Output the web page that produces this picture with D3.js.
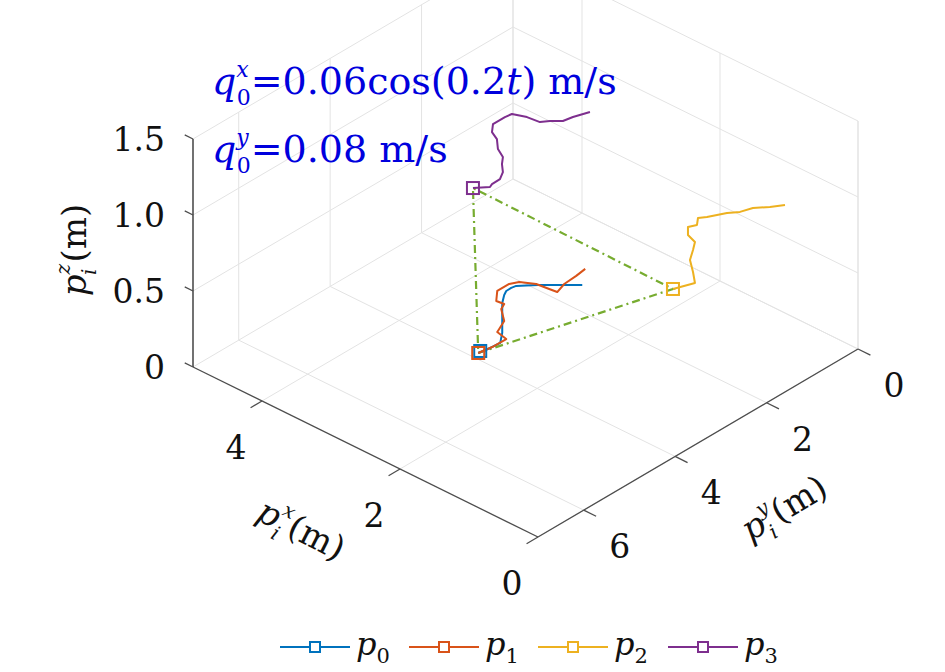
<!DOCTYPE html>
<html>
<head>
<meta charset="UTF-8">
<script src="https://d3js.org/d3.v7.min.js"></script>
<style>
  body { margin: 0; background: #fff; }
  svg text { font-family: "DejaVu Serif", serif; }
</style>
</head>
<body>
<svg id="svg" width="945" height="672"></svg>
<script>
// 3D view: screen offsets of each axis (x: 0..5, y: 0..7, z: 0..1.5)
const origin = [858, 349];
const xH = d3.scaleLinear([0, 5], [0, -345]), xV = d3.scaleLinear([0, 5], [0, -170]);
const yH = d3.scaleLinear([0, 7], [0, -320]), yV = d3.scaleLinear([0, 7], [0, 188]);
const zV = d3.scaleLinear([0, 1.5], [0, -228]);
function proj(p) {
  return [origin[0] + xH(p[0]) + yH(p[1]), origin[1] + xV(p[0]) + yV(p[1]) + zV(p[2])];
}

// trajectories [x, y, z]
const traj = {
  p0: [[2.94,3.87,0],[2.845,3.75,0.033],[2.767,3.65,0.066],[2.751,3.63,0.132],[2.751,3.63,0.23],
       [2.751,3.63,0.329],[2.735,3.611,0.382],[2.719,3.591,0.408],[2.68,3.541,0.428],[2.641,3.491,0.441],
       [2.562,3.391,0.444],[2.467,3.271,0.447],[2.31,3.072,0.447],[2.12,2.832,0.447]],
  p1: [[2.94,3.87,0],[2.83,3.73,0.039],[2.719,3.591,0.092],[2.79,3.68,0.138],[2.775,3.66,0.158],
       [2.735,3.611,0.211],[2.759,3.64,0.289],[2.735,3.611,0.322],[2.798,3.69,0.342],[2.79,3.68,0.408],
       [2.696,3.561,0.454],[2.617,3.461,0.467],[2.483,3.291,0.454],[2.381,3.161,0.421],[2.317,3.082,0.401],
       [2.262,3.012,0.454],[2.168,2.892,0.507],[2.097,2.802,0.553]],
  p2: [[1.244,2.17,0.5],[1.071,1.95,0.539],[1.086,1.97,0.612],[1.11,2.0,0.691],[1.086,1.97,0.757],
       [1.071,1.95,0.809],[1.126,2.02,0.855],[1.126,2.02,0.908],[1.055,1.93,0.921],[1.047,1.92,0.967],
       [0.976,1.831,0.974],[0.897,1.731,0.987],[0.818,1.631,1.0],[0.716,1.501,1.007],[0.614,1.372,1.033],
       [0.48,1.202,1.039],[0.361,1.052,1.053]],
  p3: [[2.992,3.907,1.08],[2.858,3.737,1.087],[2.842,3.717,1.106],[2.779,3.638,1.139],[2.756,3.608,1.185],
       [2.763,3.618,1.238],[2.756,3.608,1.284],[2.795,3.658,1.337],[2.803,3.668,1.402],[2.842,3.717,1.448],
       [2.834,3.707,1.501],[2.74,3.588,1.547],[2.685,3.518,1.567],[2.566,3.368,1.547],[2.464,3.238,1.514],
       [2.385,3.139,1.521],[2.283,3.009,1.521],[2.204,2.909,1.547],[2.07,2.739,1.58]]
};
const colors = { p0: "#0072BD", p1: "#D95319", p2: "#EDB120", p3: "#7E2F8E" };

const svg = d3.select("#svg");
const line = d3.line().x(d => proj(d)[0]).y(d => proj(d)[1]);
const seg = (a, b, stroke, w) => svg.append("path").attr("d", line([a, b]))
  .attr("stroke", stroke).attr("stroke-width", w).attr("fill", "none");

const xt = [0, 2, 4], yt = [0, 2, 4, 6], zt = [0, 0.5, 1, 1.5];
const grid = "#e3e3e3";
// floor
xt.forEach(x => seg([x, 0, 0], [x, 7, 0], grid, 1));
yt.forEach(y => seg([0, y, 0], [5, y, 0], grid, 1));
// back wall x = 5
yt.forEach(y => seg([5, y, 0], [5, y, 1.5], grid, 1));
zt.forEach(z => seg([5, 0, z], [5, 7, z], grid, 1));
// back wall y = 0
xt.forEach(x => seg([x, 0, 0], [x, 0, 1.5], grid, 1));
zt.forEach(z => seg([0, 0, z], [5, 0, z], grid, 1));
seg([5, 0, 0], [5, 0, 1.5], grid, 1);
seg([0, 0, 0], [0, 0, 1.5], grid, 1);

// axes
const ax = "#4d4d4d";
seg([0, 7, 0], [5, 7, 0], ax, 1.3);
seg([0, 0, 0], [0, 7, 0], ax, 1.3);
seg([5, 7, 0], [5, 7, 1.5], "#262626", 1.3);
xt.forEach(x => seg([x, 7, 0], [x, 7.25, 0], ax, 1.3));
yt.forEach(y => seg([0, y, 0], [-0.18, y, 0], ax, 1.3));
zt.forEach(z => seg([5, 7, z], [5.12, 7, z], ax, 1.3));

// tick labels
const tick = (t, xy, anchor) => svg.append("text").attr("x", xy[0]).attr("y", xy[1])
  .attr("text-anchor", anchor).attr("font-size", 33).attr("fill", "#111").text(t);
zt.forEach(z => { const p = proj([5, 7, z]); tick(z === 0 ? "0" : z.toFixed(1), [p[0] - 28, p[1] + 12], "end"); });
xt.forEach(x => { const p = proj([x, 7, 0]); tick(x, [p[0] - 26, p[1] + 58], "middle"); });
yt.forEach(y => { const p = proj([0, y, 0]); tick(y, [p[0] + 36, p[1] + 48], "middle"); });

// axis labels
function plabel(sup, tr) {
  const t = svg.append("text").attr("transform", tr).attr("font-size", 34).attr("fill", "#111")
    .attr("text-anchor", "middle");
  t.append("tspan").attr("font-style", "italic").text("p");
  t.append("tspan").attr("font-style", "italic").attr("font-size", 20).attr("dy", -16).text(sup);
  t.append("tspan").attr("font-style", "italic").attr("font-size", 20).attr("dx", -11).attr("dy", 26).text("i");
  t.append("tspan").attr("dx", 6).attr("dy", -10).text("(m)");
}
plabel("z", "translate(86,250) rotate(-90)");
plabel("x", "translate(296,540) rotate(27)");
plabel("y", "translate(790,518) rotate(-31)");

// formation triangle
const tri = [traj.p1[0], traj.p2[0], traj.p3[0], traj.p1[0]];
svg.append("path").attr("d", line(tri)).attr("fill", "none").attr("stroke", "#77AC30")
  .attr("stroke-width", 2.2).attr("stroke-dasharray", "8,4,2,4");

// trajectories
Object.keys(traj).forEach(k => {
  svg.append("path").attr("d", line(traj[k])).attr("fill", "none")
    .attr("stroke", colors[k]).attr("stroke-width", 2).attr("stroke-linejoin", "round");
});
["p0", "p2", "p3", "p1"].forEach(k => {
  const p = proj(traj[k][0]);
  const off = k === "p0" ? 2 : 0;
  svg.append("rect").attr("x", p[0] - 6 + off).attr("y", p[1] - 6 - off).attr("width", 12).attr("height", 12)
    .attr("fill", "none").attr("stroke", colors[k]).attr("stroke-width", 2);
});

// annotations
function qtext(y, sup, rest, italicT) {
  const t = svg.append("text").attr("x", 212).attr("y", y).attr("font-size", 38).attr("fill", "#0000dd");
  t.append("tspan").attr("font-style", "italic").text("q");
  t.append("tspan").attr("font-style", "italic").attr("font-size", 22).attr("dy", -17).text(sup);
  t.append("tspan").attr("font-size", 22).attr("dx", -12).attr("dy", 28).text("0");
  t.append("tspan").attr("dy", -11).text(rest[0]);
  if (italicT) {
    t.append("tspan").attr("font-style", "italic").text("t");
    t.append("tspan").text(rest[1]);
  }
}
qtext(94, "x", ["=0.06cos(0.2", ") m/s"], true);
qtext(162, "y", ["=0.08 m/s"], false);

// legend
const legend = [["p0", 280, "0"], ["p1", 409, "1"], ["p2", 538, "2"], ["p3", 668, "3"]];
legend.forEach(([k, x0, s]) => {
  const y = 647;
  svg.append("line").attr("x1", x0).attr("x2", x0 + 70).attr("y1", y).attr("y2", y)
    .attr("stroke", colors[k]).attr("stroke-width", 2);
  svg.append("rect").attr("x", x0 + 30).attr("y", y - 5).attr("width", 10).attr("height", 10)
    .attr("fill", "#fff").attr("stroke", colors[k]).attr("stroke-width", 2);
  const t = svg.append("text").attr("x", x0 + 76).attr("y", y + 8).attr("font-size", 32).attr("fill", "#111");
  t.append("tspan").attr("font-style", "italic").text("p");
  t.append("tspan").attr("font-size", 21).attr("dy", 8).text(s);
});
</script>
</body>
</html>
